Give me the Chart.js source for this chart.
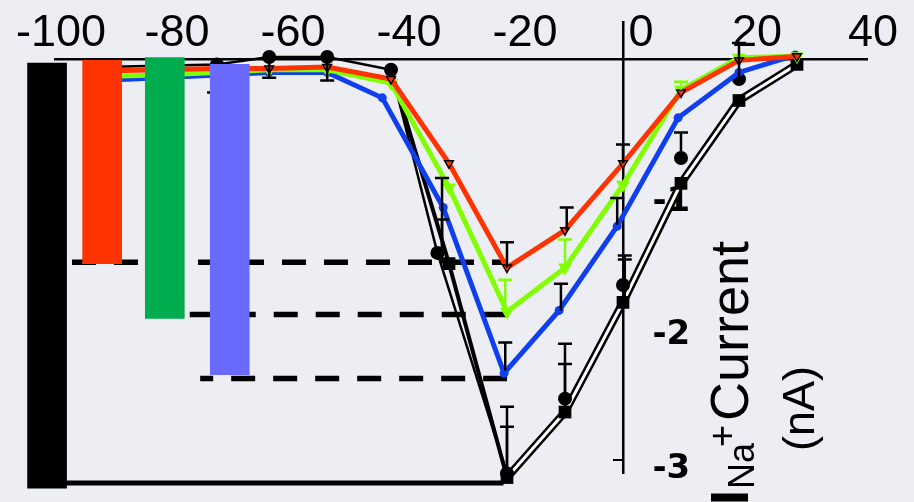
<!DOCTYPE html>
<html>
<head>
<meta charset="utf-8">
<script src="https://cdn.jsdelivr.net/npm/chart.js@4.4.1/dist/chart.umd.min.js"></script>
<style>
  html, body { margin: 0; padding: 0; background: #eceef4; }
  canvas { display: block; }
</style>
</head>
<body>
<canvas id="iv" width="914" height="502"></canvas>
<script>
// ── Data: Na+ current (nA) vs membrane potential (mV) ──

const xTicks = [-100, -80, -60, -40, -20, 0, 20, 40];
const yTicks = [-1, -2, -3];

const voltages = [-90, -80, -70, -61, -51, -40, -30, -20, -10, 0, 10, 20, 30];
const blueVoltages = [-90, -80, -70, -61, -51, -41.5, -31, -20.5, -11, -1, 9.5, 20, 29.7];
const redCurrent = [-0.09, -0.08, -0.07, -0.07, -0.06, -0.15, -0.78, -1.56, -1.28, -0.78, -0.25, -0.01, 0.02];
const greenCurrent = [-0.13, -0.12, -0.1, -0.08, -0.08, -0.18, -0.96, -1.89, -1.56, -0.94, -0.23, 0.01, 0.02];
const blueCurrent = [-0.16, -0.14, -0.12, -0.1, -0.1, -0.29, -1.11, -2.35, -1.88, -1.25, -0.44, -0.1, 0.03];

const circleVoltages = [-90, -80, -70, -61, -51, -40, -32, -20, -10, 0, 10, 20];
const circleCurrent = [-0.06, -0.05, -0.04, 0.015, 0.015, -0.08, -1.45, -3.1, -2.54, -1.69, -0.74, -0.15];

const squareVoltages = [-40, -30, -20, -10, 0, 10, 20, 30];
const squareCurrent = [-0.08, -1.53, -3.13, -2.64, -1.82, -0.93, -0.31, -0.04];

// peak amplitude bars (left) and their reference levels
const barVoltages = [-99.3, -89.8, -79, -67.8];
const barTop = [-0.03, -0.01, 0.01, -0.04];
const barBottom = [-3.21, -1.53, -1.94, -2.36];
const barColors = ['#000000', '#ff3300', '#00ad4e', '#6a6aff'];

const redLevel = [[-95, -1.52], [-20, -1.52]];
const greenLevel = [[-74.7, -1.91], [-20, -1.91]];
const blueLevel = [[-72.9, -2.39], [-20, -2.39]];
const blackLevel = [[-100, -3.17], [-20.6, -3.17]];

// one-sided error bars: [voltage, from, to]
const errBlack = [
  [-70.5, -0.1, -0.25], [-61, 0.015, -0.14], [-51, 0.015, -0.16],
  [-31.2, -1.45, -0.89], [-31.2, -1.53, -1.2],
  [-20, -3.1, -2.6], [-20, -3.13, -2.75], [-20, -1.56, -1.37], [-20.3, -2.33, -2.12],
  [-9.7, -1.28, -1.11], [-10.7, -1.88, -1.68], [-10, -2.54, -2.13], [-10, -2.64, -2.28],
  [0, -0.78, -0.64], [-1, -1.24, -1.04], [0.3, -1.69, -1.47], [0.3, -1.82, -1.5],
  [10, -0.74, -0.55], [20, -0.15, 0.12]
];
const errGreen = [[-20.3, -1.89, -1.65], [-10, -1.56, -1.35], [10, -0.23, -0.17]];

const RED = '#ff3300';
const GREEN = '#80ff00';
const BLUE = '#1040ee';

const X_MIN = -97.93, X_MAX = 42.07;
const Y_MIN = -3.096, Y_MAX = 0.277;

const pts = (xs, ys) => xs.map((x, i) => ({ x, y: ys[i] }));
const seg = arr => arr.map(([x, y]) => ({ x, y }));

// ── plugins ──

const errorBars = {
  id: 'errorBars',
  beforeDatasetDraw(chart, args) {
    if (args.meta.type !== 'bar') return;
    const { ctx, scales: { x, y } } = chart;
    ctx.save();
    ctx.lineWidth = 2.5;
    [[errBlack, '#000'], [errGreen, GREEN]].forEach(([list, color]) => {
      ctx.strokeStyle = color;
      list.forEach(([v, from, to]) => {
        const px = x.getPixelForValue(v);
        const p1 = y.getPixelForValue(from);
        const p2 = y.getPixelForValue(to);
        ctx.beginPath();
        ctx.moveTo(px, p1);
        ctx.lineTo(px, p2);
        ctx.moveTo(px - 7, p2);
        ctx.lineTo(px + 7, p2);
        ctx.stroke();
      });
    });
    ctx.restore();
  }
};

const axisTitle = {
  id: 'axisTitle',
  afterDraw(chart) {
    const ctx = chart.ctx;
    ctx.save();
    ctx.fillStyle = '#000';
    ctx.textAlign = 'left';
    ctx.textBaseline = 'alphabetic';
    ctx.rotate(-Math.PI / 2);
    const put = (txt, font, baseX, startY) => {
      ctx.font = font;
      ctx.fillText(txt, -startY, baseX);
    };
    put('I', 'bold 54px "Liberation Sans"', 748, 505);
    put('Na', '36px "Liberation Sans"', 754, 489);
    put('+', '38px "Liberation Sans"', 735, 447);
    put('Current', '54px "Liberation Sans"', 748, 421);
    put('(nA)', '45px "Liberation Sans"', 814, 451);
    ctx.restore();
  }
};

// ── chart ──

const curve = (label, data, color, extra) => Object.assign({
  type: 'line', label, data,
  borderColor: color, backgroundColor: color,
  borderWidth: 5, tension: 0, clip: false,
  pointBorderWidth: 0
}, extra);

new Chart(document.getElementById('iv'), {
  type: 'line',
  data: {
    datasets: [
      {
        type: 'bar', label: 'peak',
        data: barVoltages.map((x, i) => ({ x, y: [barTop[i], barBottom[i]] })),
        backgroundColor: barColors, barThickness: 39, order: 0, clip: false
      },
      curve('red', pts(voltages, redCurrent), RED, {
        order: 1, pointStyle: 'triangle', rotation: 180, pointRadius: 5,
        pointBorderColor: '#000', pointBorderWidth: 1.5
      }),
      curve('green', pts(voltages, greenCurrent), GREEN, {
        order: 2, pointStyle: 'triangle', rotation: 180, pointRadius: 8
      }),
      curve('blue', pts(blueVoltages, blueCurrent), BLUE, {
        order: 3, pointRadius: 4.5
      }),
      curve('circles', pts(circleVoltages, circleCurrent), '#000', {
        order: 4, borderWidth: 2.5, pointRadius: 7,
        segment: { borderColor: c => (c.p0.parsed.x >= -20 ? 'transparent' : undefined) }
      }),
      curve('squares core', pts(squareVoltages, squareCurrent), '#fff', {
        order: 5, borderWidth: 3, pointStyle: 'rect',
        pointRadius: squareVoltages.map(v => (v < -35 ? 0 : 9)),
        pointBackgroundColor: '#000',
        segment: { borderColor: c => (c.p0.parsed.x < -20 ? 'transparent' : undefined) }
      }),
      curve('squares', pts(squareVoltages, squareCurrent), '#000', {
        order: 6, borderWidth: 8, pointRadius: 0,
        segment: { borderWidth: c => (c.p0.parsed.x < -20 ? 4 : undefined) }
      }),
      curve('red level', seg(redLevel), '#000', { order: 7, borderWidth: 5.5, borderDash: [24, 18], pointRadius: 0 }),
      curve('green level', seg(greenLevel), '#000', { order: 7, borderWidth: 5.5, borderDash: [24, 18], pointRadius: 0 }),
      curve('blue level', seg(blueLevel), '#000', { order: 7, borderWidth: 5.5, borderDash: [24, 18], borderDashOffset: 11, pointRadius: 0 }),
      curve('black level', seg(blackLevel), '#000', { order: 7, borderWidth: 5, pointRadius: 0 })
    ]
  },
  options: {
    responsive: false,
    animation: false,
    layout: { padding: { left: 55, right: 47, top: 22, bottom: 29 } },
    plugins: { legend: { display: false }, tooltip: { enabled: false } },
    scales: {
      x: {
        type: 'linear',
        position: { y: 0 },
        offset: false,
        min: X_MIN, max: X_MAX,
        afterBuildTicks: axis => { axis.ticks = xTicks.map(v => ({ value: v })); },
        grid: { display: false, drawTicks: false, offset: false },
        border: { display: true, color: '#000', width: 2.5 },
        ticks: {
          autoSkip: false, maxRotation: 0, minRotation: 0, color: '#000',
          font: { family: 'Liberation Sans', size: 45, lineHeight: 1 },
          padding: -48, labelOffset: 18
        }
      },
      // axis line through x = 0
      y: {
        type: 'linear',
        position: { x: 0 },
        min: Y_MIN, max: Y_MAX,
        afterBuildTicks: axis => { axis.ticks = yTicks.map(v => ({ value: v })); },
        grid: {
          display: true, drawOnChartArea: false, drawTicks: true, tickLength: 9, lineWidth: 2,
          color: c => (c.tick && c.tick.value === -3 ? '#000' : 'rgba(0,0,0,0)')
        },
        border: { display: true, color: '#000', width: 2.5 },
        ticks: { display: false }
      },
      // tick labels, set to the right of the axis line
      yLabels: {
        type: 'linear',
        position: { x: 11.6 },
        min: Y_MIN, max: Y_MAX,
        afterBuildTicks: axis => { axis.ticks = yTicks.map(v => ({ value: v })); },
        grid: { display: false, drawTicks: false },
        border: { display: false },
        ticks: {
          color: '#000',
          font: { family: 'DejaVu Sans', weight: 'bold', size: 34 },
          padding: 0, labelOffset: 9
        }
      }
    }
  },
  plugins: [errorBars, axisTitle]
});
</script>
</body>
</html>
